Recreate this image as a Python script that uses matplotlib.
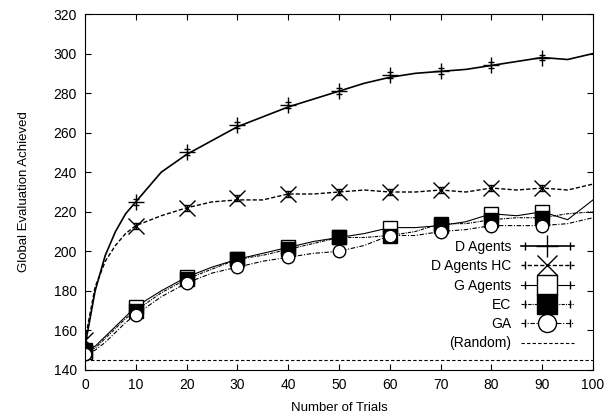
import matplotlib
matplotlib.use('Agg')
import matplotlib.pyplot as plt
from matplotlib.lines import Line2D
from matplotlib.legend_handler import HandlerLine2D, HandlerTuple

plt.rcParams['font.family'] = ['Liberation Sans', 'DejaVu Sans']

# curve samples (trials, value)
trials = [0, 2, 4, 6, 8, 10, 15, 20, 25, 30, 35, 40, 45, 50, 55, 60, 65, 70, 75, 80, 85, 90, 95, 100]
d_agents = [152, 180, 198, 210, 219, 225, 240, 249, 256, 263, 268, 273, 277, 281, 285, 288, 290, 291, 292, 294, 296, 298, 297, 300]
d_agents_hc = [155, 182, 195, 203, 209, 213, 218, 222, 225, 226, 226, 229, 229, 230, 231, 230, 230, 231, 230, 232, 231, 232, 231, 234]
g_agents = [150, 152, 157, 162, 167, 172, 180, 187, 192, 196, 199, 202, 205, 207, 209, 212, 212, 213, 215, 219, 218, 220, 216, 226]
ec = [150, 151, 156, 161, 166, 170, 179, 186, 191, 196, 198, 201, 204, 207, 207, 208, 210, 214, 214, 216, 217, 217, 219, 220]
ga = [148, 150, 154, 159, 164, 168, 177, 184, 189, 192, 195, 197, 199, 200, 203, 208, 208, 210, 211, 213, 213, 213, 214, 217]
random_level = 145

# marker points with error bars
mk_trials = [0, 10, 20, 30, 40, 50, 60, 70, 80, 90]
d_agents_mk = [152, 225, 250, 264, 274, 281, 289, 291, 294, 298]
d_agents_hc_mk = [155, 213, 222, 227, 229, 230, 230, 231, 232, 232]
g_agents_mk = [149, 172, 187, 196, 202, 207, 212, 213, 219, 220]
ec_mk = [150, 170, 186, 196, 201, 207, 208, 214, 216, 217]
ga_mk = [148, 168, 184, 192, 197, 200, 208, 210, 213, 213]
err = [1.5, 1.5, 1.5, 1.5, 1.5, 1.5, 1.5, 1.5, 1.5, 1.5]

fig = plt.figure(figsize=(6.14, 4.16), dpi=100)
ax = fig.add_axes([0.1384, 0.1106, 0.8274, 0.8557])

series = [
    ('D Agents', d_agents, d_agents_mk, '-', 1.2, '+', 'none', 12),
    ('D Agents HC', d_agents_hc, d_agents_hc_mk, (0, (3, 1.5)), 1.0, 'x', 'none', 11),
    ('G Agents', g_agents, g_agents_mk, '-', 0.8, 's', 'white', 10),
    ('EC', ec, ec_mk, (0, (3, 1, 1, 1)), 0.8, 's', 'black', 10),
    ('GA', ga, ga_mk, (0, (4, 1.5, 1, 1.5)), 0.8, 'o', 'white', 9),
]

handles = []
labels = []
hmap = {}
for name, line, mk, ls, lw, marker, fc, ms in series:
    ax.plot(trials, line, color='black', linestyle=ls, linewidth=lw)
    ax.errorbar(mk_trials, mk, yerr=err, color='black', linestyle='none',
                marker=marker, markersize=ms, markerfacecolor=fc,
                markeredgecolor='black', markeredgewidth=1.0,
                elinewidth=0.8, capsize=2)
    # legend: line with marker plus end caps
    main = Line2D([], [], color='black', linestyle=ls, linewidth=lw,
                  marker=marker, markersize=ms + 4, markerfacecolor=fc,
                  markeredgecolor='black')
    caps = Line2D([], [], color='black', linestyle='none', marker='|', markersize=6)
    hmap[caps] = HandlerLine2D(numpoints=2)
    handles.append((main, caps))
    labels.append(name)

rnd = ax.axhline(random_level, color='black', linestyle=(0, (3, 2)), linewidth=0.8)
handles.append(rnd)
labels.append('(Random)')
hmap[tuple] = HandlerTuple(ndivide=1)

ax.set_xlim(0, 100)
ax.set_ylim(140, 320)
ax.set_xticks(range(0, 101, 10))
ax.set_yticks(range(140, 321, 20))
ax.tick_params(direction='in', top=True, right=True, labelsize=10, length=4, pad=6)
ax.set_xlabel('Number of Trials', fontsize=9.5, labelpad=7)
ax.set_ylabel('Global Evaluation Achieved', fontsize=9.5, labelpad=17)

ax.legend(handles, labels, handler_map=hmap, loc='upper right',
          bbox_to_anchor=(0.962, 0.365), borderaxespad=0, borderpad=0,
          frameon=False, markerfirst=False, fontsize=10, handlelength=3.8,
          labelspacing=0.38, handletextpad=0.7)

fig.savefig('out.png', dpi=100)
